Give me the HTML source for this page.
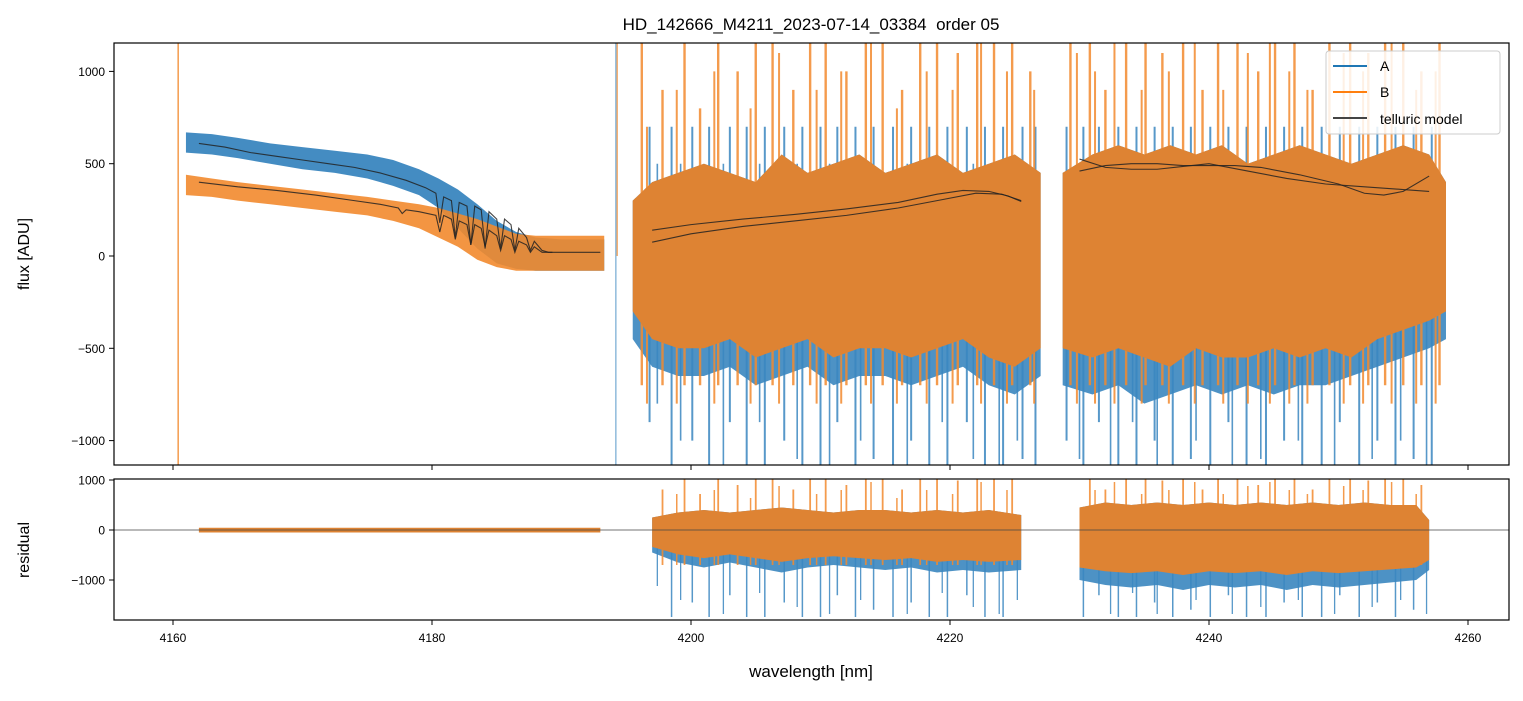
<!DOCTYPE html>
<html><head><meta charset="utf-8"><style>
body{margin:0;background:#fff;}
svg text{font-family:"Liberation Sans","DejaVu Sans",sans-serif;fill:#000;}
</style></head><body>
<svg id="chart" width="1523" height="696" xmlns="http://www.w3.org/2000/svg">
<defs>
<clipPath id="ct"><rect x="114" y="43" width="1395" height="422"/></clipPath>
<clipPath id="cb"><rect x="114" y="479" width="1395" height="141"/></clipPath>
</defs>
<rect width="1523" height="696" fill="#fff"/>
<text x="811" y="30" font-size="17" text-anchor="middle" style="white-space:pre">HD_142666_M4211_2023-07-14_03384  order 05</text>
<g id="gtop" clip-path="url(#ct)"></g>
<g id="gbot" clip-path="url(#cb)"></g>
<g id="axes"></g>
<text transform="translate(29,254) rotate(-90)" font-size="16" text-anchor="middle">flux [ADU]</text>
<text transform="translate(29,550) rotate(-90)" font-size="16" text-anchor="middle">residual</text>
<text x="811" y="677" font-size="17" text-anchor="middle">wavelength [nm]</text>
<g>
<rect x="1326" y="51" width="174" height="83" rx="3" fill="#fff" fill-opacity="0.85" stroke="#ccc"/>
<line x1="1333" y1="66" x2="1367" y2="66" stroke="#1f77b4" stroke-width="2"/>
<text x="1380" y="71" font-size="14">A</text>
<line x1="1333" y1="92" x2="1367" y2="92" stroke="#ff7f0e" stroke-width="2"/>
<text x="1380" y="97" font-size="14">B</text>
<line x1="1333" y1="118" x2="1367" y2="118" stroke="#444" stroke-width="2"/>
<text x="1380" y="124" font-size="14">telluric model</text>
</g>
</svg>
<script>
// ---- data ----
const xTicks=[4160,4180,4200,4220,4240,4260];
const yTicksTop=[1000,500,0,-500,-1000];
const yTicksBot=[1000,0,-1000];
const seg1W=[4161,4163,4165,4167.5,4170,4172.5,4175,4177,4179,4180.5,4182,4183.5,4185,4186.5,4188,4190,4193.3];
const seg1AUp=[670,660,640,610,590,570,550,520,470,420,360,280,190,130,100,90,90];
const seg1ALo=[560,550,530,500,470,450,420,380,330,260,150,40,-40,-70,-80,-80,-80];
const seg1BUp=[440,420,400,380,360,340,320,300,280,260,230,200,160,120,110,110,110];
const seg1BLo=[330,320,300,280,260,240,220,190,150,100,50,-20,-60,-80,-80,-80,-80];
const seg2W=[4195.5,4197,4199,4201,4203,4205,4207,4209,4211,4213,4215,4217,4219,4221,4223,4225,4227];
const seg2BUp=[300,400,450,500,450,400,550,450,500,550,450,500,550,450,500,550,450];
const seg2BLo=[-300,-450,-500,-500,-450,-550,-500,-450,-550,-500,-500,-550,-500,-450,-550,-600,-500];
const seg2ALo=[-450,-600,-650,-650,-600,-700,-650,-600,-700,-650,-650,-700,-650,-600,-700,-750,-650];
const seg3W=[4228.7,4231,4233,4235,4237,4239,4241,4243,4245,4247,4249,4251,4253,4255,4257,4258.3];
const seg3BUp=[450,550,600,550,600,550,600,500,550,600,550,500,550,600,550,400];
const seg3BLo=[-500,-550,-500,-550,-600,-500,-550,-550,-500,-550,-500,-550,-450,-400,-350,-300];
const seg3ALo=[-700,-750,-700,-800,-750,-700,-750,-700,-750,-700,-700,-650,-600,-550,-500,-450];
const spikesB=[4196.2,4197.8,4199.5,4200.7,4202.1,4203.6,4205.0,4206.3,4207.9,4209.2,4210.4,4212.0,4213.5,4214.8,4216.3,4217.7,4219.0,4220.6,4222.1,4223.4,4224.8,4226.2,4229.3,4230.8,4232.0,4233.6,4235.1,4236.4,4238.0,4239.5,4240.7,4242.2,4243.8,4245.1,4246.6,4248.0,4249.3,4250.9,4252.3,4253.6,4255.0,4256.4,4257.8];
const spikesBHi=[1200,900,1200,800,1200,1000,1200,1200,900,1200,1200,1000,1200,1200,900,1200,1200,1100,1200,1200,1200,1000,1200,1200,900,1200,1200,1100,1200,900,1200,1200,1000,1200,1200,900,1200,1200,1100,1200,1200,1000,1200];
const spikesA=[4196.8,4198.5,4200.1,4201.4,4203.0,4204.3,4205.7,4207.2,4208.6,4210.0,4211.3,4212.7,4214.1,4215.6,4217.0,4218.4,4219.8,4221.3,4222.7,4224.1,4225.6,4226.6,4229.0,4230.3,4231.5,4233.0,4234.4,4235.8,4237.2,4238.6,4240.1,4241.5,4242.9,4244.4,4245.8,4247.2,4248.7,4250.1,4251.6,4253.0,4254.4,4255.8,4257.2];
const spikesALo=[-900,-1200,-1000,-1200,-900,-1200,-1200,-1000,-1200,-1200,-900,-1200,-1100,-1200,-1000,-1200,-1200,-900,-1200,-1200,-1100,-1200,-1000,-1200,-900,-1200,-1200,-1000,-1200,-1100,-1200,-900,-1200,-1200,-1000,-1200,-1200,-900,-1200,-1000,-1200,-1100,-1200];
const spikesB2=[4196.6,4198.9,4201.8,4204.6,4206.8,4209.7,4211.6,4213.9,4215.9,4218.2,4220.2,4222.4,4224.4,4226.5,4229.8,4231.2,4232.7,4234.8,4236.9,4238.9,4241.1,4243.0,4244.7,4246.2,4247.6,4250.4,4251.9,4254.1,4256.0,4257.5];
const spikesB2Hi=[700,900,1000,800,1100,900,1000,1200,800,1000,900,1200,1000,900,1100,1000,1200,900,1000,1200,900,1100,1200,1000,900,1100,1000,1200,900,1000];
const spikesA2=[4197.4,4199.2,4202.5,4205.3,4208.2,4210.7,4213.1,4216.7,4219.4,4221.8,4223.8,4225.2,4230.0,4232.4,4234.1,4236.0,4239.0,4241.8,4244.0,4246.9,4249.7,4252.6,4254.8,4256.8];
const spikesA2Lo=[-800,-1000,-1200,-900,-1100,-1200,-1000,-1200,-900,-1100,-1200,-1000,-1100,-1200,-900,-1200,-1000,-1200,-1100,-1000,-1200,-1100,-1000,-1200];
const telA1W=[4162,4164,4166,4168,4170,4172,4174,4176,4178,4179.5,4180.3,4180.6,4180.9,4181.5,4181.8,4182.1,4182.7,4183,4183.3,4183.8,4184.1,4184.4,4185,4185.3,4185.6,4186.1,4186.4,4186.7,4187.3,4187.6,4187.9,4188.5,4189,4189.3];
const telA1V=[610,590,560,540,520,500,480,450,410,370,340,180,320,300,100,290,270,60,270,250,40,240,200,40,200,170,30,150,100,30,80,30,20,20];
const telB1W=[4162,4165,4168,4171,4174,4176,4177.4,4177.7,4178,4179,4180.3,4180.6,4180.9,4181.5,4181.8,4182.1,4182.7,4183,4183.3,4183.8,4184.1,4184.4,4185,4185.3,4185.6,4186.1,4186.4,4186.7,4187.3,4187.6,4187.9,4188.5,4189,4191,4193];
const telB1V=[400,375,355,330,300,280,260,230,250,240,220,130,220,200,90,190,170,60,170,150,50,140,110,30,110,90,20,80,60,20,50,20,20,20,20];
const telA2W=[4197,4200,4204,4208,4212,4216,4219,4221,4223,4224.5,4225.5];
const telA2V=[140,170,200,225,255,290,335,355,350,325,295];
const telB2W=[4197,4200,4204,4208,4212,4216,4219,4222,4224,4225.5];
const telB2V=[75,120,160,190,220,260,300,340,335,300];
const telA3W=[4230,4232,4234,4236,4238,4240,4243,4246,4249,4252,4255,4257];
const telA3V=[525,480,470,470,485,500,460,420,390,375,360,350];
const telB3W=[4230,4232,4234,4236,4238,4240,4242,4244,4247,4250,4252,4253.5,4255,4257];
const telB3V=[460,490,500,500,490,490,490,480,440,390,340,330,350,433];
const res1W=[4162,4193];
const res1Up=[45,45];
const res1Lo=[-50,-50];
const res2W=[4197,4199,4201,4203,4205,4207,4209,4211,4213,4215,4217,4219,4221,4223,4225.5];
const res2Up=[250,350,400,350,400,450,400,350,400,400,350,400,350,400,300];
const res2Lo=[-450,-650,-750,-650,-750,-850,-750,-700,-750,-800,-750,-850,-800,-850,-800];
const res3W=[4230,4232,4234,4236,4238,4240,4242,4244,4246,4248,4250,4252,4254,4256,4257];
const res3Up=[450,550,500,550,500,550,500,550,500,550,500,550,500,500,200];
const res3Lo=[-1000,-1100,-1150,-1100,-1200,-1100,-1150,-1100,-1200,-1100,-1150,-1100,-1050,-1000,-800];
// ---- scales ----
const X=w=>173+(w-4160)*12.95;
const YT=v=>256-v*0.1846;
const YB=v=>530-v*0.05;
const NS='http://www.w3.org/2000/svg';
function mk(parent,tag,attrs){const e=document.createElementNS(NS,tag);for(const k in attrs)e.setAttribute(k,attrs[k]);parent.appendChild(e);return e;}
const gTop=document.getElementById('gtop'),gBot=document.getElementById('gbot'),gAxes=document.getElementById('axes');
function band(g,W,up,lo,Y,color,op,name){
  let d='M'+W.map((w,i)=>X(w)+','+Y(up[i])).join('L')+'L'+W.map((w,i)=>[w,i]).reverse().map(([w,i])=>X(w)+','+Y(lo[i])).join('L')+'Z';
  const p=mk(g,'path',{d:d,fill:color,'fill-opacity':op});
  
  
}
function line(g,W,V,Y,name){
  const p=mk(g,'polyline',{points:W.map((w,i)=>X(w)+','+Y(V[i])).join(' '),fill:'none',stroke:'#222','stroke-width':1.1,'stroke-opacity':0.85});
  
  
}
function spike(g,w,a,b,Y,color,sw,name){
  const l=mk(g,'line',{x1:X(w),x2:X(w),y1:Y(a),y2:Y(b),stroke:color,'stroke-width':sw,'stroke-opacity':0.85});
  
  
}
const BL='#3a86bf',OR='#f28a2e',ORD='#de8333';
// top panel
band(gTop,seg1W,seg1AUp,seg1ALo,YT,BL,0.95,'flux-a-seg1');
band(gTop,seg1W,seg1BUp,seg1BLo,YT,OR,0.9,'flux-b-seg1');
band(gTop,seg2W,seg2BUp,seg2ALo,YT,BL,0.9,'flux-a-seg2');
band(gTop,seg3W,seg3BUp,seg3ALo,YT,BL,0.9,'flux-a-seg3');
spikesA.forEach((w,i)=>spike(gTop,w,spikesALo[i],700,YT,BL,2,'flux-a-spike'));
spikesA2.forEach((w,i)=>spike(gTop,w,spikesA2Lo[i],500,YT,BL,1.6,'flux-a-spike'));
spikesB.forEach((w,i)=>spike(gTop,w,-700,spikesBHi[i],YT,OR,2.4,'flux-b-spike'));
spikesB2.forEach((w,i)=>spike(gTop,w,-800,spikesB2Hi[i],YT,OR,2,'flux-b-spike'));
band(gTop,seg2W,seg2BUp,seg2BLo,YT,ORD,1,'flux-b-seg2');
band(gTop,seg3W,seg3BUp,seg3BLo,YT,ORD,1,'flux-b-seg3');
spike(gTop,4160.4,-1200,1200,YT,OR,1.5,'flux-edge-spike');
spike(gTop,4194.2,-1200,1200,YT,BL,1,'flux-edge-spike');
spike(gTop,4194.3,1200,0,YT,OR,1.2,'flux-edge-spike');
line(gTop,telA1W,telA1V,YT,'telluric-a-seg1');
line(gTop,telB1W,telB1V,YT,'telluric-b-seg1');
line(gTop,telA2W,telA2V,YT,'telluric-a-seg2');
line(gTop,telB2W,telB2V,YT,'telluric-b-seg2');
line(gTop,telA3W,telA3V,YT,'telluric-a-seg3');
line(gTop,telB3W,telB3V,YT,'telluric-b-seg3');
// bottom panel
const inRes=w=>(w>4197&&w<4225.5)||(w>4230&&w<4257);
band(gBot,res1W,res1Up,res1Lo,YB,ORD,1,'residual-seg1');
band(gBot,res2W,res2Up,res2Lo,YB,BL,0.9,'residual-a-seg2');
band(gBot,res3W,res3Up,res3Lo,YB,BL,0.9,'residual-a-seg3');
spikesA.forEach((w,i)=>{if(inRes(w))spike(gBot,w,spikesALo[i]*1.45,200,YB,BL,1.5,'residual-a-spike');});
spikesA2.forEach((w,i)=>{if(inRes(w))spike(gBot,w,spikesA2Lo[i]*1.4,200,YB,BL,1.3,'residual-a-spike');});
spikesB.forEach((w,i)=>{if(inRes(w))spike(gBot,w,-700,spikesBHi[i]*0.9,YB,OR,1.8,'residual-b-spike');});
spikesB2.forEach((w,i)=>{if(inRes(w))spike(gBot,w,-700,spikesB2Hi[i]*0.8,YB,OR,1.5,'residual-b-spike');});
band(gBot,res2W,res2Up,res2Lo.map(v=>v*0.75),YB,ORD,1,'residual-b-seg2');
band(gBot,res3W,res3Up,res3Lo.map(v=>v*0.75),YB,ORD,1,'residual-b-seg3');
mk(gBot,'line',{x1:114,x2:1509,y1:YB(0),y2:YB(0),stroke:'#444','stroke-width':0.7});
// axes frames
mk(gAxes,'rect',{x:114,y:43,width:1395,height:422,fill:'none',stroke:'#000','stroke-width':1.2});
mk(gAxes,'rect',{x:114,y:479,width:1395,height:141,fill:'none',stroke:'#000','stroke-width':1.2});
xTicks.forEach(t=>{
  mk(gAxes,'line',{x1:X(t),x2:X(t),y1:465,y2:470,stroke:'#000'});
  mk(gAxes,'line',{x1:X(t),x2:X(t),y1:620,y2:625,stroke:'#000'});
  const tx=mk(gAxes,'text',{x:X(t),y:642,'font-size':12,'text-anchor':'middle'});tx.textContent=t;
  
  
});
yTicksTop.forEach(t=>{
  mk(gAxes,'line',{x1:109,x2:114,y1:YT(t),y2:YT(t),stroke:'#000'});
  const tx=mk(gAxes,'text',{x:105,y:YT(t)+4.5,'font-size':12,'text-anchor':'end'});tx.textContent=t<0?'\u2212'+(-t):t;
  
  
});
yTicksBot.forEach(t=>{
  mk(gAxes,'line',{x1:109,x2:114,y1:YB(t),y2:YB(t),stroke:'#000'});
  const tx=mk(gAxes,'text',{x:105,y:YB(t)+4.5,'font-size':12,'text-anchor':'end'});tx.textContent=t<0?'\u2212'+(-t):t;
  
  
});
</script>
</body></html>
